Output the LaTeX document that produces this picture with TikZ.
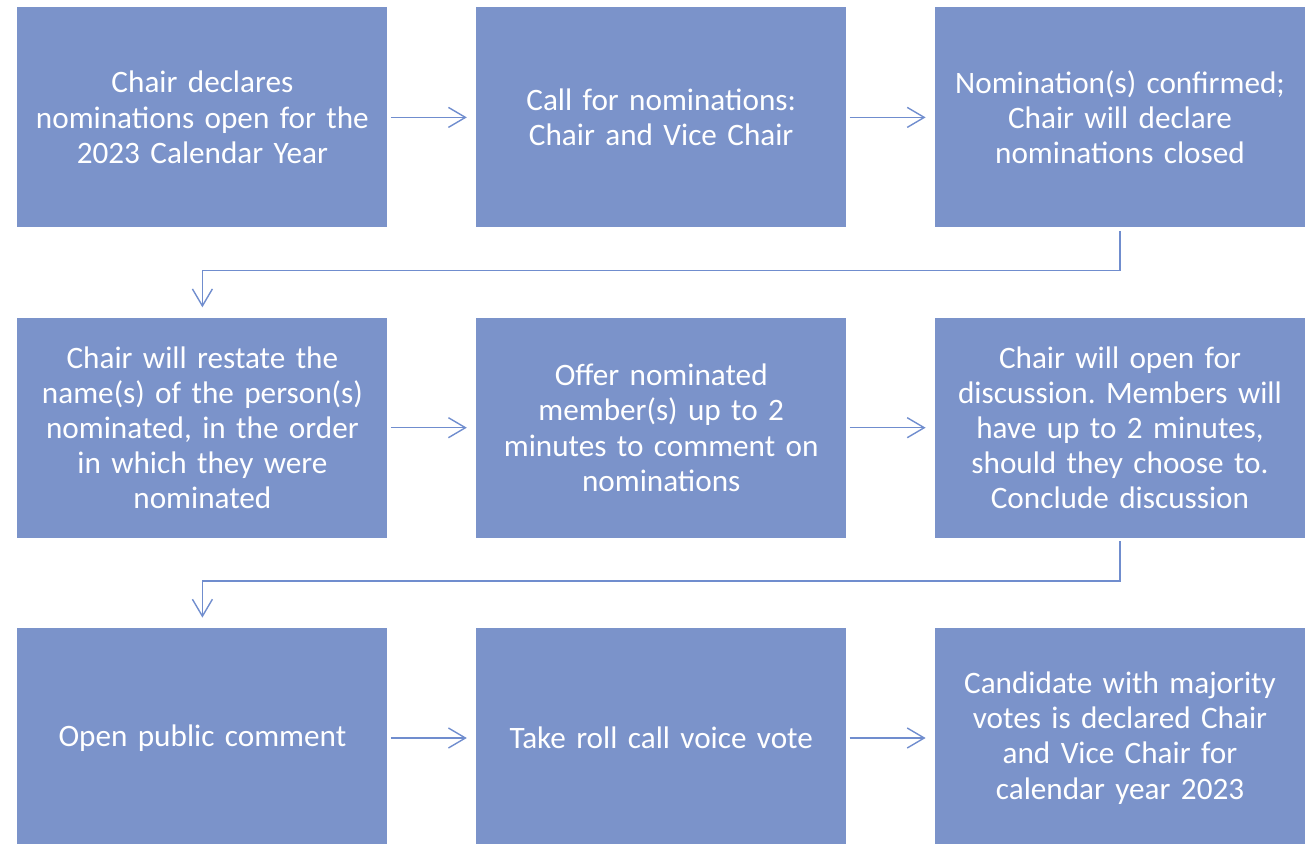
\documentclass[tikz,border=0pt]{standalone}
\usepackage{fontspec}
\setmainfont{Carlito}
\usetikzlibrary{positioning,arrows.meta}
\definecolor{boxblue}{RGB}{123,147,202}
\definecolor{linkblue}{RGB}{112,141,206}
\begin{document}
\begin{tikzpicture}[
    stepbox/.style={fill=boxblue,text=white,minimum width=185pt,minimum height=110pt,
      text width=175pt,align=center,inner sep=0pt,font=\fontsize{15.6}{17.6}\selectfont\frenchspacing},
    link/.style={linkblue,line width=0.7pt,-{Straight Barb[length=8.5pt,width=10pt]}},
    node distance=44.75pt and 44pt]
  \useasboundingbox (0,0) rectangle (658pt,-422pt);
  % first row
  \node[stepbox,anchor=north west] (a1) at (8.5pt,-3.5pt) {Chair declares\\nominations open for the\\2023 Calendar Year};
  \node[stepbox,right=of a1] (a2) {Call for nominations:\\Chair and Vice Chair};
  \node[stepbox,right=of a2] (a3) {Nomination(s) confirmed;\\Chair will declare\\nominations closed};
  % second row
  \node[stepbox,below=of a1] (b1) {Chair will restate the\\name(s) of the person(s)\\nominated, in the order\\in which they were\\nominated};
  \node[stepbox,right=of b1] (b2) {Offer nominated\\member(s) up to 2\\minutes to comment on\\nominations};
  \node[stepbox,right=of b2] (b3) {Chair will open for\\discussion. Members will\\have up to 2 minutes,\\should they choose to.\\Conclude discussion};
  % third row
  \node[stepbox,below=of b1] (c1) {Open public comment};
  \node[stepbox,right=of c1] (c2) {Take roll call voice vote};
  \node[stepbox,right=of c2] (c3) {Candidate with majority\\votes is declared Chair\\and Vice Chair for\\calendar year 2023};
  \foreach \r in {a,b,c}{
    \draw[link,shorten <=1.5pt,shorten >=4.5pt] (\r1) -- (\r2);
    \draw[link,shorten <=1.5pt,shorten >=4.5pt] (\r2) -- (\r3);};
  \draw[link,shorten <=1.5pt,shorten >=5pt] (a3.south) -- ++(0,-21.5pt) -| (b1.north);
  \draw[link,shorten <=1.5pt,shorten >=5pt] (b3.south) -- ++(0,-21.5pt) -| (c1.north);
\end{tikzpicture}
\end{document}
